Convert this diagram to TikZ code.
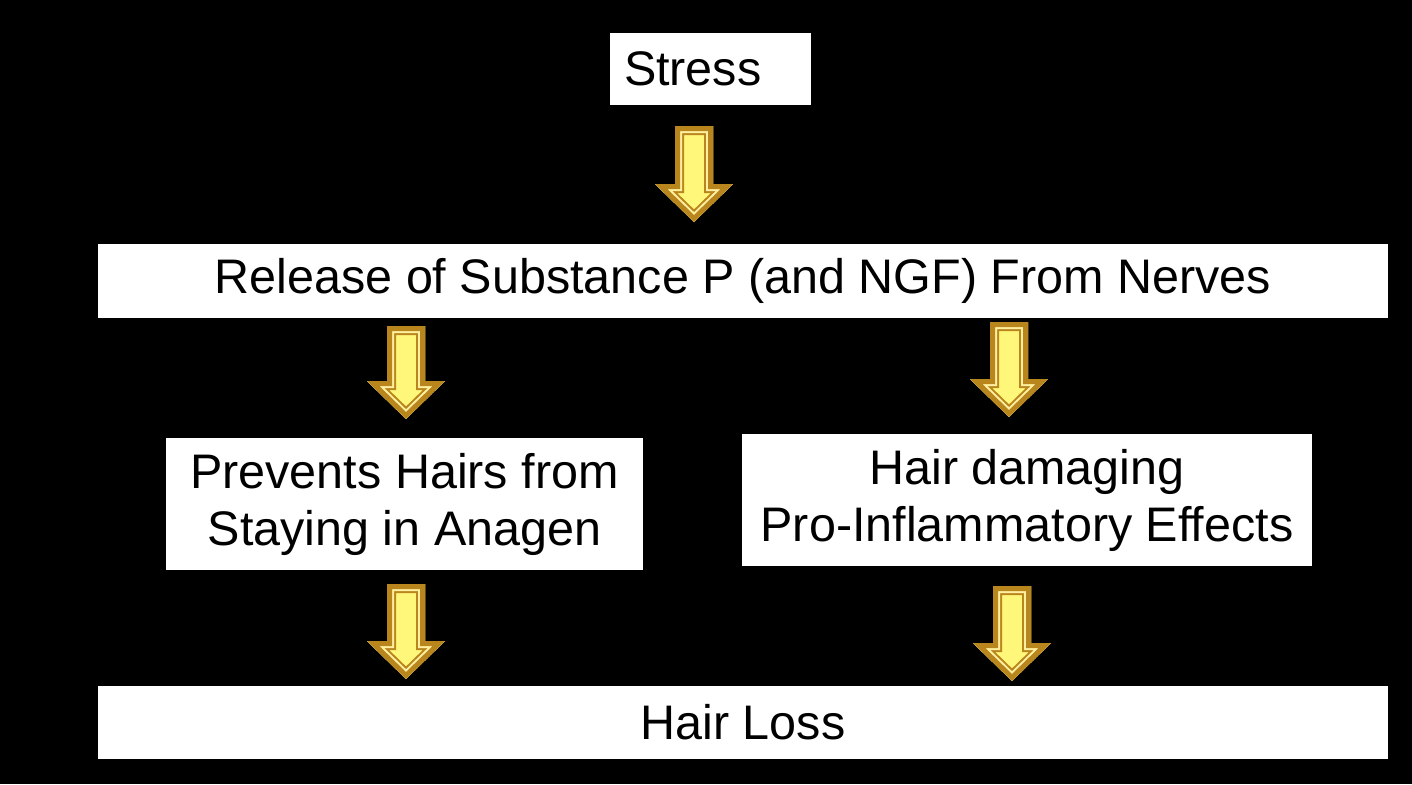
\documentclass[tikz,border=0pt]{standalone}
\usepackage{fontspec}
\setmainfont{Liberation Sans}
\usetikzlibrary{calc}
\definecolor{arrgold}{HTML}{B8861C}
\definecolor{arrlight}{HTML}{FFEFA0}
\definecolor{arrfill}{HTML}{FFF77A}
\newcommand\ArrPoly[4]{\path[#1] (#2-19,#3) -- (#2+19,#3) -- (#2+19,#4-38) -- (#2+39,#4-38) -- (#2,#4) -- (#2-39,#4-38) -- (#2-19,#4-38) -- cycle;}
\newcommand\GoldArrow[3]{%
  \begin{scope}
    \ArrPoly{clip}{#1}{#2}{#3}
    \ArrPoly{fill=arrfill}{#1}{#2}{#3}
    \ArrPoly{draw=arrgold,line width=18pt,line join=miter}{#1}{#2}{#3}
    \ArrPoly{draw=arrlight,line width=14pt,line join=miter}{#1}{#2}{#3}
    \ArrPoly{draw=arrgold,line width=10pt,line join=miter}{#1}{#2}{#3}
  \end{scope}}
\tikzset{
  box/.style={fill=white, draw=none, rectangle, inner sep=0pt, font=\fontsize{48.5}{57}\selectfont, text=black}
}
\begin{document}
\begin{tikzpicture}[x=1pt,y=-1pt]
  \fill[black] (0,0) rectangle (1412,784);
  \useasboundingbox (0,0) rectangle (1412,784);
  \node[box, text width=173pt, inner xsep=14pt, align=left, minimum height=72pt] (stress) at (710.5,69) {Stress};
  \node[box, minimum width=1290pt, minimum height=74pt] (release) at (743,281) {Release of Substance P (and NGF) From Nerves};
  \node[box, minimum width=477pt, minimum height=132pt, align=center] (prevents) at (404.5,504) {Prevents Hairs from\\Staying in Anagen};
  \node[box, minimum width=570pt, minimum height=132pt, align=center] (damage) at (1027,500) {Hair damaging\\Pro-Inflammatory Effects};
  \node[box, minimum width=1290pt, minimum height=73pt] (loss) at (743,722.5) {Hair Loss};
  \GoldArrow{694}{126}{222}
  \GoldArrow{406}{326}{419}
  \GoldArrow{1009}{322}{417}
  \GoldArrow{406}{584}{679}
  \GoldArrow{1012}{586}{681}
\end{tikzpicture}
\end{document}
